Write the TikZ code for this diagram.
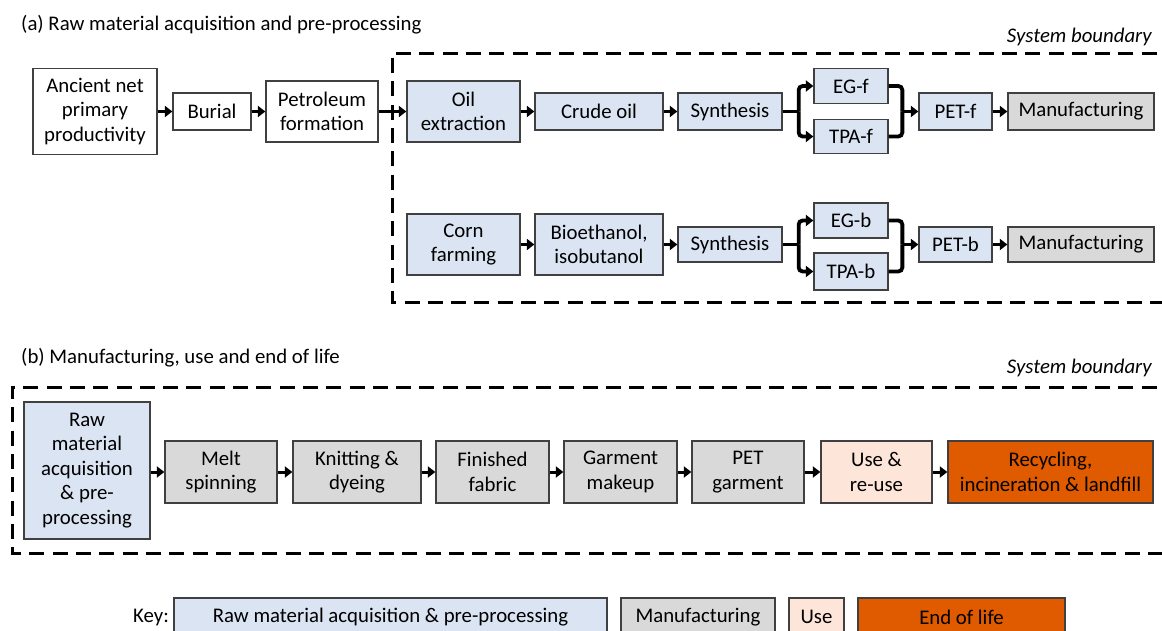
\documentclass[tikz,border=0pt]{standalone}
\usepackage{fontspec}
\setmainfont{Carlito}
\usetikzlibrary{arrows.meta,calc}
\definecolor{rawblue}{HTML}{DAE4F2}
\definecolor{mangrey}{HTML}{D9D9D9}
\definecolor{usepeach}{HTML}{FDE6D9}
\definecolor{eolorange}{HTML}{E05A00}
\definecolor{boxline}{HTML}{404040}
\begin{document}
\begin{tikzpicture}[x=1pt,y=-1pt,
  every node/.style={font=\fontsize{20.8}{24.5}\selectfont},
  box/.style={draw=boxline,line width=1.3pt,align=center,inner sep=0pt,anchor=center},
  white box/.style={box,fill=white},
  blue box/.style={box,fill=rawblue},
  grey box/.style={box,fill=mangrey},
  peach box/.style={box,fill=usepeach},
  orange box/.style={box,fill=eolorange},
  arr/.style={line width=3pt,-{Triangle[length=7.5pt,width=11pt]}},
  bline/.style={line width=3.8pt,rounded corners=4pt},
  barr/.style={bline,-{Triangle[length=7.5pt,width=11pt]}},
  boundary/.style={line width=3pt,dash pattern=on 15pt off 8.3pt},
  txt/.style={inner sep=0pt}
]
\useasboundingbox (0,0) rectangle (1162,631);
\clip (0,0) rectangle (1162,631);

% titles
\node[txt,anchor=west] (ta) at (21,25) {(a) Raw material acquisition and pre-processing};
\node[txt,anchor=east] (sba) at (1152,37) {\itshape System boundary};
\node[txt,anchor=west] (tb) at (21,358) {(b) Manufacturing, use and end of life};
\node[txt,anchor=east] (sbb) at (1152,368) {\itshape System boundary};

% boundaries
\draw[boundary] (1180,54) -- (392,54) -- (392,302) -- (1180,302);
\draw[boundary] (1180,387) -- (12,387) -- (12,553) -- (1180,553);

% row a1
\node[white box,minimum width=124pt,minimum height=86pt] (anc) at (95,111.5) {Ancient net\\primary\\productivity};
\node[white box,minimum width=78pt,minimum height=37pt] (bur) at (212,111.5) {Burial};
\node[white box,minimum width=112pt,minimum height=61pt] (pet) at (322,111.5) {Petroleum\\formation};
\node[blue box,minimum width=113pt,minimum height=61pt] (oil) at (463.5,111.5) {Oil\\extraction};
\node[blue box,minimum width=128pt,minimum height=37pt] (crude) at (599,111.5) {Crude oil};
\node[blue box,minimum width=104pt,minimum height=37pt] (syna) at (730,111.5) {Synthesis};
\node[blue box,minimum width=74pt,minimum height=34.5pt] (egf) at (851,86) {EG-f};
\node[blue box,minimum width=74pt,minimum height=34.5pt] (tpaf) at (851,136.5) {TPA-f};
\node[blue box,minimum width=73pt,minimum height=37pt] (petf) at (955.5,111.5) {PET-f};
\node[grey box,minimum width=146pt,minimum height=37pt] (mana) at (1081,111.5) {Manufacturing};

% row a2
\node[blue box,minimum width=113pt,minimum height=61pt] (corn) at (463.5,244.5) {Corn\\farming};
\node[blue box,minimum width=128pt,minimum height=61pt] (bio) at (599,244.5) {Bioethanol,\\isobutanol};
\node[blue box,minimum width=104pt,minimum height=35pt] (synb) at (730,244.5) {Synthesis};
\node[blue box,minimum width=74pt,minimum height=35pt] (egb) at (851,220.5) {EG-b};
\node[blue box,minimum width=74pt,minimum height=37pt] (tpab) at (851,271.5) {TPA-b};
\node[blue box,minimum width=73pt,minimum height=35pt] (petb) at (955.5,244.5) {PET-b};
\node[grey box,minimum width=146pt,minimum height=35pt] (manb) at (1081,244.5) {Manufacturing};

% row a1 connectors
\draw[arr] (anc) -- (bur);
\draw[arr] (bur) -- (pet);
\draw[arr] (pet) -- (oil);
\draw[arr] (oil) -- (crude);
\draw[arr] (crude) -- (syna);
\coordinate (ja) at ($(syna.east)+(16,0)$);
\draw[bline] (syna.east) -- (ja);
\draw[barr] (ja) |- (egf.west);
\draw[barr] (ja) |- (tpaf.west);
\coordinate (ka) at ($(petf.west)+(-16,0)$);
\draw[bline] (egf.east) -| (ka);
\draw[bline] (tpaf.east) -| (ka);
\draw[arr] (ka) -- (petf.west);
\draw[arr] (petf) -- (mana);

% row a2 connectors
\draw[arr] (corn) -- (bio);
\draw[arr] (bio) -- (synb);
\coordinate (jb) at ($(synb.east)+(16,0)$);
\draw[bline] (synb.east) -- (jb);
\draw[barr] (jb) |- (egb.west);
\draw[barr] (jb) |- (tpab.west);
\coordinate (kb) at ($(petb.west)+(-16,0)$);
\draw[bline] (egb.east) -| (kb);
\draw[bline] (tpab.east) -| (kb);
\draw[arr] (kb) -- (petb.west);
\draw[arr] (petb) -- (manb);

% row b
\node[blue box,minimum width=126pt,minimum height=137pt] (raw) at (87,470.5) {Raw\\material\\acquisition\\\& pre-\\processing};
\node[grey box,minimum width=112pt,minimum height=62pt] (melt) at (221,472) {Melt\\spinning};
\node[grey box,minimum width=128pt,minimum height=62pt] (knit) at (357,472) {Knitting \&\\dyeing};
\node[grey box,minimum width=113pt,minimum height=62pt] (fin) at (492.5,472) {Finished\\fabric};
\node[grey box,minimum width=113pt,minimum height=62pt] (garm) at (620.5,472) {Garment\\makeup};
\node[grey box,minimum width=112pt,minimum height=62pt] (petg) at (748,472) {PET\\garment};
\node[peach box,minimum width=111pt,minimum height=62pt] (use) at (876.5,472) {Use \&\\re-use};
\node[orange box,minimum width=205pt,minimum height=62pt] (rec) at (1050.5,472) {Recycling,\\incineration \& landfill};
\draw[arr] (raw.east |- melt.west) -- (melt.west);
\draw[arr] (melt) -- (knit);
\draw[arr] (knit) -- (fin);
\draw[arr] (fin) -- (garm);
\draw[arr] (garm) -- (petg);
\draw[arr] (petg) -- (use);
\draw[arr] (use) -- (rec);

% key
\node[txt,anchor=east] (keyk) at (169,617) {Key:};
\node[blue box,minimum width=433pt,minimum height=38pt] (k1) at (390.5,617) {Raw material acquisition \& pre-processing};
\node[grey box,minimum width=154pt,minimum height=38pt] (k2) at (698,617) {Manufacturing};
\node[peach box,minimum width=55pt,minimum height=38pt] (k3) at (816.5,617) {Use};
\node[orange box,minimum width=207pt,minimum height=38pt] (k4) at (961.5,617) {End of life};
\end{tikzpicture}
\end{document}
